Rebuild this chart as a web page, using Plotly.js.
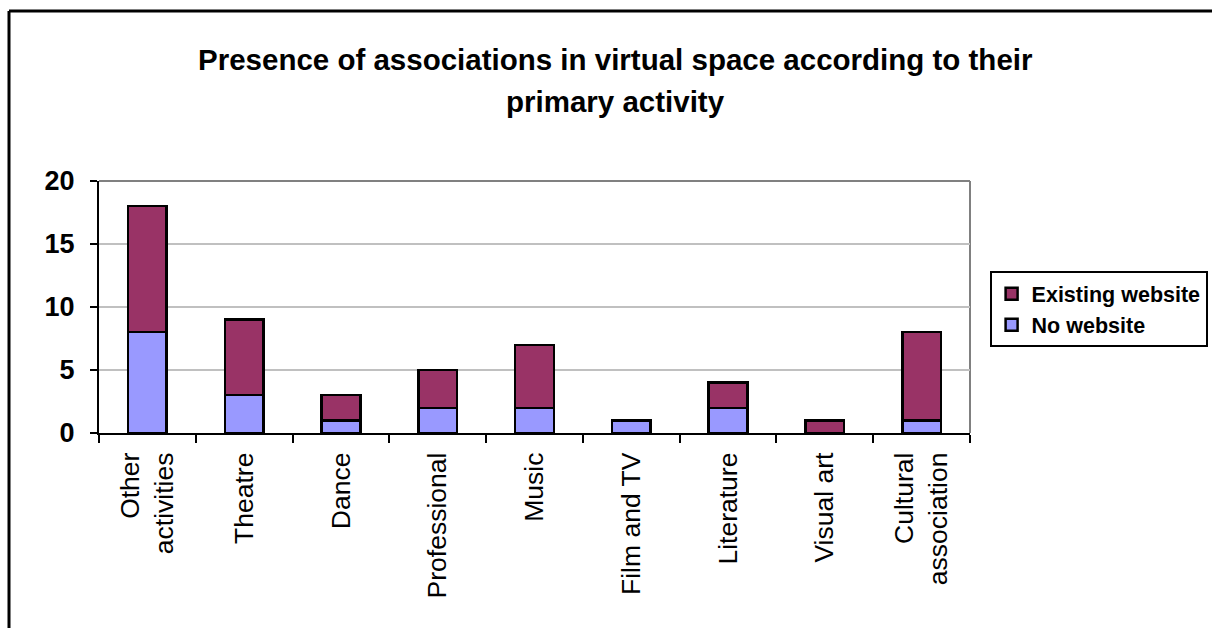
<!DOCTYPE html>
<html>
<head>
<meta charset="utf-8">
<script src="https://cdn.plot.ly/plotly-3.0.1.min.js"></script>
<style>html,body{margin:0;padding:0;background:#fff;}#chart{width:1212px;height:628px;}</style>
</head>
<body>
<div id="chart"></div>
<script>
const categories = ["Other<br>activities", "Theatre", "Dance", "Professional", "Music", "Film and TV", "Literature", "Visual art", "Cultural<br>association"];
const noWebsite = [8, 3, 1, 2, 2, 1, 2, 0, 1];
const existingWebsite = [10, 6, 2, 3, 5, 0, 2, 1, 7];
const yTicks = [0, 5, 10, 15, 20];
const titleLines = ["Presence of associations in virtual space according to their", "primary activity"];

const traces = [
  {type: 'bar', name: 'No website', x: categories, y: noWebsite,
   marker: {color: '#9999FF', line: {color: '#000000', width: 2.5}}},
  {type: 'bar', name: 'Existing website', x: categories, y: existingWebsite,
   marker: {color: '#993366', line: {color: '#000000', width: 2.5}}}
];

const layout = {
  width: 1212, height: 628,
  margin: {l: 99, r: 242, t: 181, b: 195, pad: 0, autoexpand: false},
  paper_bgcolor: '#ffffff', plot_bgcolor: '#ffffff',
  barmode: 'stack', bargap: 0.6,
  font: {family: 'Arial, "Liberation Sans", sans-serif', color: '#000000'},
  showlegend: true,
  legend: {x: 1.0225, y: 0.642, xanchor: 'left', yanchor: 'top',
    bordercolor: '#000000', borderwidth: 2, bgcolor: '#ffffff',
    font: {size: 21.5, family: 'Arial, "Liberation Sans", sans-serif', weight: 'bold'},
    traceorder: 'reversed', itemwidth: 30},
  xaxis: {type: 'category', tickson: 'boundaries', ticks: 'outside', ticklen: 8, tickwidth: 2, tickcolor: '#000',
    showline: true, linecolor: '#000', linewidth: 2, showgrid: false, tickangle: -90,
    tickfont: {size: 26.5}, fixedrange: true, ticklabelstandoff: 7},
  yaxis: {range: [0, 20], tickvals: yTicks, ticks: 'outside', ticklen: 7, tickwidth: 2, tickcolor: '#000',
    showline: true, linecolor: '#000', linewidth: 2, showgrid: true, gridcolor: '#C0C0C0', gridwidth: 2,
    zeroline: false, tickfont: {size: 27, weight: 'bold'}, fixedrange: true, ticklabelstandoff: 10},
  shapes: [
    {type: 'line', xref: 'paper', yref: 'paper', x0: 0, x1: 1, y0: 1, y1: 1, line: {color: '#808080', width: 2}, layer: 'below'},
    {type: 'line', xref: 'paper', yref: 'paper', x0: 1, x1: 1, y0: 0, y1: 1, line: {color: '#808080', width: 2}, layer: 'below'},
    {type: 'line', xref: 'paper', yref: 'paper', x0: (9 - 99) / 871, x1: 1.5, y0: (433 - 11) / 252, y1: (433 - 11) / 252, line: {color: '#000', width: 3}},
    {type: 'line', xref: 'paper', yref: 'paper', x0: (9 - 99) / 871, x1: (9 - 99) / 871, y0: (433 - 11) / 252, y1: -1, line: {color: '#000', width: 3}}
  ],
  annotations: [
    {text: titleLines[0], xref: 'paper', yref: 'paper', x: (615 - 99) / 871, y: (433 - 60) / 252, xanchor: 'center', yanchor: 'middle',
     showarrow: false, font: {size: 29.5, weight: 'bold'}},
    {text: titleLines[1], xref: 'paper', yref: 'paper', x: (615 - 99) / 871, y: (433 - 101) / 252, xanchor: 'center', yanchor: 'middle',
     showarrow: false, font: {size: 29.5, weight: 'bold'}}
  ]
};

Plotly.newPlot('chart', traces, layout, {displayModeBar: false, staticPlot: true});
</script>
</body>
</html>
